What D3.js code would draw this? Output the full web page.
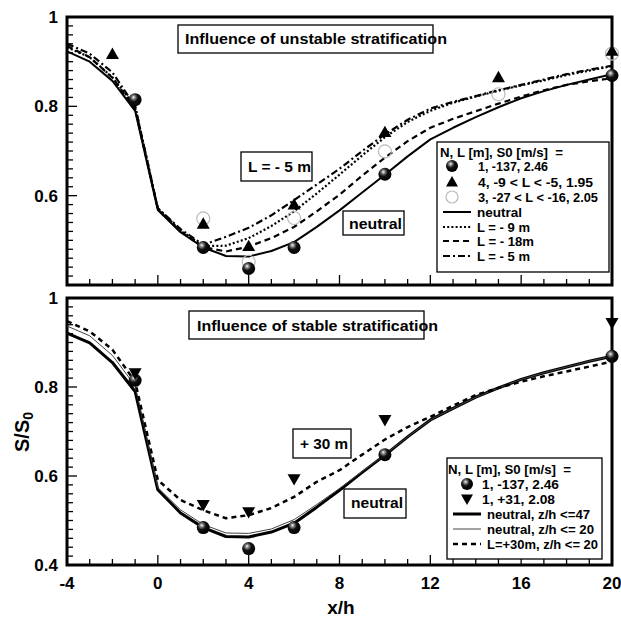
<!DOCTYPE html>
<html>
<head>
<meta charset="utf-8">
<script src="https://cdn.jsdelivr.net/npm/d3@7"></script>
<style>
  html, body { margin: 0; padding: 0; background: #fff; }
  svg text { font-family: "Liberation Sans", Arial, sans-serif; font-weight: bold; fill: #000; white-space: pre; }
</style>
</head>
<body>
<svg id="chart" width="621" height="619"></svg>
<script>
// Streamwise positions (x/h) of the computed profiles
const xh = [-4,-3,-2,-1,0,1,2,3,4,5,6,7,8,9,10,11,12,13,14,15,16,17,18,19,20];

// Unstable stratification: model curves
const neutralTop = [0.923,0.900,0.857,0.790,0.568,0.518,0.484,0.465,0.464,0.476,0.496,0.530,0.567,0.607,0.647,0.688,0.726,0.752,0.776,0.798,0.818,0.834,0.848,0.860,0.872];
const unstable9  = [0.932,0.910,0.865,0.800,0.572,0.522,0.487,0.488,0.505,0.532,0.565,0.605,0.647,0.690,0.731,0.765,0.790,0.808,0.822,0.835,0.847,0.858,0.870,0.880,0.890];
const unstable18 = [0.935,0.910,0.864,0.795,0.570,0.520,0.485,0.475,0.486,0.505,0.530,0.565,0.602,0.645,0.685,0.722,0.752,0.772,0.789,0.806,0.822,0.836,0.848,0.856,0.863];
const unstable5  = [0.940,0.918,0.876,0.800,0.572,0.525,0.490,0.508,0.528,0.556,0.590,0.625,0.660,0.700,0.737,0.770,0.795,0.810,0.823,0.836,0.848,0.860,0.872,0.882,0.891];

// Stable stratification: model curves
const neutral47 = [0.921,0.899,0.855,0.790,0.569,0.517,0.484,0.464,0.463,0.474,0.494,0.530,0.568,0.608,0.647,0.688,0.726,0.752,0.777,0.798,0.817,0.832,0.845,0.858,0.869];
const neutral20 = [0.937,0.915,0.871,0.803,0.574,0.524,0.491,0.472,0.471,0.481,0.502,0.536,0.572,0.610,0.648,0.688,0.726,0.752,0.777,0.798,0.817,0.832,0.845,0.858,0.869];
const stable30  = [0.948,0.925,0.884,0.812,0.591,0.546,0.523,0.505,0.512,0.528,0.553,0.587,0.613,0.648,0.682,0.710,0.733,0.758,0.782,0.798,0.812,0.824,0.835,0.846,0.857];

// Measurements
const neutralObsX = [-1,2,4,6,10,20];
const neutralObsY = [0.815,0.484,0.437,0.484,0.648,0.869];
const unst5ObsX   = [-2,2,4,6,10,15,20];
const unst5ObsY   = [0.917,0.537,0.487,0.580,0.742,0.865,0.924];
const unst27ObsX  = [2,4,6,10,15,20];
const unst27ObsY  = [0.549,0.452,0.550,0.699,0.827,0.918];
const stableObsX  = [-1,2,4,6,10,20];
const stableObsY  = [0.831,0.535,0.519,0.593,0.726,0.944];

const xTicks = [-4,0,4,8,12,16,20];
const yTicksTop = [0.6,0.8,1];
const yTicksBottom = [0.4,0.6,0.8,1];

const svg = d3.select("#chart");
const defs = svg.append("defs");
const grad = defs.append("radialGradient").attr("id","ball")
  .attr("cx","38%").attr("cy","35%").attr("r","65%").attr("fx","38%").attr("fy","32%");
grad.append("stop").attr("offset","0%").attr("stop-color","#fff");
grad.append("stop").attr("offset","20%").attr("stop-color","#888");
grad.append("stop").attr("offset","50%").attr("stop-color","#111");
grad.append("stop").attr("offset","100%").attr("stop-color","#000");

const x = d3.scaleLinear().domain([-4,20]).range([67,612]);
const yTop = d3.scaleLinear().domain([0.4,1]).range([285,17]);
const yBot = d3.scaleLinear().domain([0.4,1]).range([565,298]);

function frame(y, showXLabels, yLabels) {
  const g = svg.append("g");
  const [y0, y1] = y.range();
  // inward ticks along the bottom axis
  d3.range(-4,21,1).forEach(v => {
    const major = v % 4 === 0;
    g.append("line").attr("x1",x(v)).attr("x2",x(v))
      .attr("y1",y0).attr("y2",y0 - (major ? 10 : 6))
      .attr("stroke","#000").attr("stroke-width",1.3);
  });
  // inward ticks along the left axis
  d3.range(0,31).forEach(i => {
    const v = 0.4 + i*0.02;
    const major = i % 10 === 0;
    g.append("line").attr("x1",x(-4)).attr("x2",x(-4) + (major ? 10 : 6))
      .attr("y1",y(v)).attr("y2",y(v))
      .attr("stroke","#000").attr("stroke-width",1.3);
  });
  g.append("rect").attr("x",x(-4)).attr("y",y1)
    .attr("width",x(20)-x(-4)).attr("height",y0-y1)
    .attr("fill","none").attr("stroke","#000").attr("stroke-width",3);
  yLabels.forEach(v => {
    g.append("text").attr("x",58).attr("y",y(v)).attr("dy","0.36em")
      .attr("text-anchor","end").style("font-size","17px")
      .text(d3.format("~g")(v));
  });
  if (showXLabels) {
    xTicks.forEach(v => {
      g.append("text").attr("x",x(v)).attr("y",589)
        .attr("text-anchor","middle").style("font-size","17px").text(v);
    });
  }
}

function curve(y, vals, width, dash, color) {
  const line = d3.line().x((d,i) => x(xh[i])).y(d => y(d));
  svg.append("path").datum(vals).attr("d",line)
    .attr("fill","none").attr("stroke",color || "#000")
    .attr("stroke-width",width).attr("stroke-dasharray",dash || null)
    .attr("stroke-linejoin","round");
}

function sphere(cx, cy, r) {
  svg.append("circle").attr("cx",cx).attr("cy",cy).attr("r",r || 6.5).attr("fill","url(#ball)");
}
function triUp(cx, cy, s) {
  s = s || 6.5;
  svg.append("path").attr("d",`M${cx},${cy-s}L${cx+s},${cy+s*0.75}L${cx-s},${cy+s*0.75}Z`).attr("fill","#000");
}
function triDown(cx, cy, s) {
  s = s || 6.5;
  svg.append("path").attr("d",`M${cx},${cy+s}L${cx+s},${cy-s*0.75}L${cx-s},${cy-s*0.75}Z`).attr("fill","#000");
}
function ring(cx, cy, r) {
  svg.append("circle").attr("cx",cx).attr("cy",cy).attr("r",r || 6.5)
    .attr("fill","none").attr("stroke","#bbb").attr("stroke-width",1.2);
}

function box(x0, y0, x1, y1, fill) {
  svg.append("rect").attr("x",x0).attr("y",y0).attr("width",x1-x0).attr("height",y1-y0)
    .attr("fill",fill ? "#fff" : "none").attr("stroke","#000").attr("stroke-width",1.3);
}
function label(tx, ty, str, size, len) {
  const t = svg.append("text").attr("x",tx).attr("y",ty).attr("dy","0.36em")
    .style("font-size",size+"px").text(str);
  if (len) t.attr("textLength",len).attr("lengthAdjust","spacingAndGlyphs");
  return t;
}

const DOT = "2,2.2", DASH = "6,4", DASHDOT = "7,3,2,3";

// ---------- upper panel: unstable ----------
frame(yTop, false, yTicksTop);
curve(yTop, neutralTop, 2);
curve(yTop, unstable9, 2.2, DOT);
curve(yTop, unstable18, 2.2, DASH);
curve(yTop, unstable5, 2.2, DASHDOT);
unst27ObsX.forEach((v,i) => ring(x(v), yTop(unst27ObsY[i])));
neutralObsX.forEach((v,i) => sphere(x(v), yTop(neutralObsY[i])));
unst5ObsX.forEach((v,i) => triUp(x(v), yTop(unst5ObsY[i])));

box(178, 25, 433, 53, true);
label(185, 39, "Influence of unstable stratification", 15, 262);
box(241, 152, 312, 181, true);
label(248, 167, "L = - 5 m", 15, 63);
box(343, 211, 404, 235, true);
label(349, 224, "neutral", 15, 53);

// legend (upper)
box(437, 142, 609, 272, true);
label(440, 152, "N, L [m], S0 [m/s]  =", 13, 123);
const lgT = [166,182,197,212,227,241,256];
sphere(452, lgT[0], 6);
triUp(452, lgT[1], 6);
ring(452, lgT[2], 6);
label(478, lgT[0], "1, -137, 2.46", 13, 70);
label(478, lgT[1], "4, -9 < L < -5, 1.95", 13, 115);
label(478, lgT[2], "3, -27 < L < -16, 2.05", 13, 120);
[["neutral",null,45],["L = - 9 m",DOT,53],["L = - 18m",DASH,57],["L = - 5 m",DASHDOT,53]].forEach((d,i) => {
  const yy = lgT[3+i];
  svg.append("line").attr("x1",443).attr("x2",471).attr("y1",yy).attr("y2",yy)
    .attr("stroke","#000").attr("stroke-width",2).attr("stroke-dasharray",d[1]);
  label(477, yy, d[0], 13, d[2]);
});

// ---------- lower panel: stable ----------
frame(yBot, true, yTicksBottom);
curve(yBot, neutral47, 3);
curve(yBot, neutral20, 1, null, "#444");
curve(yBot, stable30, 2.5, "5,4");
neutralObsX.forEach((v,i) => sphere(x(v), yBot(neutralObsY[i])));
stableObsX.forEach((v,i) => triDown(x(v), yBot(stableObsY[i])));

box(189, 311, 424, 339, true);
label(197, 326, "Influence of stable stratification", 15, 241);
box(293, 429, 351, 458, true);
label(300, 444, "+ 30 m", 15, 48);
box(344, 489, 406, 518, true);
label(351, 503, "neutral", 15, 52);

// legend (lower)
box(447, 458, 602, 559, true);
label(448, 469, "N, L [m], S0 [m/s]  =", 13, 123);
const lgB = [484,499,514,529,544];
sphere(467, lgB[0], 6);
triDown(467, lgB[1], 6);
label(482, lgB[0], "1, -137, 2.46", 13, 77);
label(482, lgB[1], "1, +31, 2.08", 13, 73);
[["neutral, z/h <=47",3,null,"#000",103],["neutral, z/h <= 20",1,null,"#444",107],["L=+30m, z/h <= 20",2.5,"5,4","#000",111]].forEach((d,i) => {
  const yy = lgB[2+i];
  svg.append("line").attr("x1",453).attr("x2",481).attr("y1",yy).attr("y2",yy)
    .attr("stroke",d[3]).attr("stroke-width",d[1]).attr("stroke-dasharray",d[2]);
  label(487, yy, d[0], 13, d[4]);
});

// axis titles
svg.append("text").attr("x",341).attr("y",614)
  .attr("text-anchor","middle").style("font-size","19px").text("x/h");
const yt = svg.append("text").attr("transform","translate(22,432) rotate(-90)")
  .attr("dy","0.36em").attr("text-anchor","middle").style("font-size","20px");
yt.append("tspan").text("S/S");
yt.append("tspan").attr("dy","0.25em").style("font-size","14px").text("0");
</script>
</body>
</html>
